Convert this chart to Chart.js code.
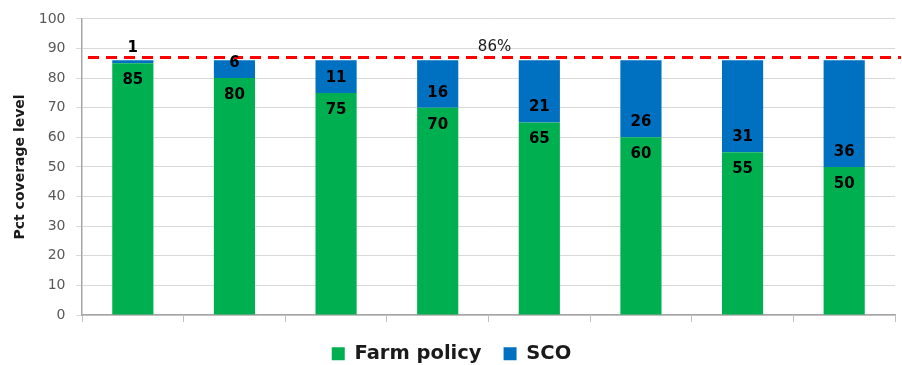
<!DOCTYPE html>
<html>
<head>
<meta charset="utf-8">
<script src="https://cdn.jsdelivr.net/npm/chart.js@4.4.1/dist/chart.umd.min.js"></script>
<style>
html,body{margin:0;padding:0;background:#fff;}
#wrap{width:902px;height:365px;position:relative;}
</style>
</head>
<body>
<div id="wrap"><canvas id="c" width="902" height="365"></canvas></div>
<script>
const categories = ['1', '2', '3', '4', '5', '6', '7', '8'];
const farmPolicy = [85, 80, 75, 70, 65, 60, 55, 50];
const sco = [1, 6, 11, 16, 21, 26, 31, 36];
const yTicks = [0, 10, 20, 30, 40, 50, 60, 70, 80, 90, 100];
const targetLevel = 87;
const targetLabel = '86%';

const FONT = "'DejaVu Sans', sans-serif";

const refLinePlugin = {
  id: 'refLine',
  afterDatasetsDraw(chart) {
    const {ctx, chartArea, scales} = chart;
    const y = scales.y.getPixelForValue(targetLevel);
    ctx.save();
    ctx.strokeStyle = '#FF0000';
    ctx.lineWidth = 3;
    ctx.setLineDash([11, 7]);
    ctx.beginPath();
    ctx.moveTo(chartArea.left + 6, y);
    ctx.lineTo(chartArea.right + 6, y);
    ctx.stroke();
    ctx.setLineDash([]);
    const xb = (scales.x.getPixelForValue(3) + scales.x.getPixelForValue(4)) / 2 + 6;
    ctx.fillStyle = '#1a1a1a';
    ctx.font = "15px " + FONT;
    ctx.textAlign = 'center';
    ctx.textBaseline = 'middle';
    ctx.fillText(targetLabel, xb, scales.y.getPixelForValue(90.6));
    ctx.restore();
  }
};

const labelPlugin = {
  id: 'barLabels',
  afterDatasetsDraw(chart) {
    const {ctx} = chart;
    const mg = chart.getDatasetMeta(0);
    ctx.save();
    ctx.fillStyle = '#000';
    ctx.font = "bold 15px " + FONT;
    ctx.textAlign = 'center';
    ctx.textBaseline = 'middle';
    mg.data.forEach((bar, i) => {
      ctx.fillText(String(farmPolicy[i]), bar.x, bar.y + 17);
      ctx.fillText(String(sco[i]), bar.x, bar.y - 15);
    });
    ctx.restore();
  }
};

new Chart(document.getElementById('c'), {
  type: 'bar',
  data: {
    labels: categories,
    datasets: [
      {label: 'Farm policy', data: farmPolicy, backgroundColor: '#00B050', stack: 's'},
      {label: 'SCO', data: sco, backgroundColor: '#0070C0', stack: 's'}
    ]
  },
  options: {
    responsive: false,
    animation: false,
    devicePixelRatio: 1,
    layout: {padding: {left: 8, right: 7, top: 6, bottom: 0}},
    datasets: {bar: {categoryPercentage: 1, barPercentage: 0.405}},
    plugins: {
      tooltip: {enabled: false},
      legend: {
        position: 'bottom',
        maxHeight: 43,
        labels: {
          boxWidth: 13, boxHeight: 13, padding: 22,
          color: '#1a1a1a',
          font: {family: FONT, size: 19.5, weight: 'bold'}
        }
      }
    },
    scales: {
      x: {
        stacked: true,
        grid: {offset: true, drawOnChartArea: false, drawTicks: true, tickLength: 7, color: '#bfbfbf'},
        border: {color: '#a6a6a6', width: 1.5},
        ticks: {display: false}
      },
      y: {
        stacked: true,
        min: 0, max: 100,
        afterBuildTicks(scale) { scale.ticks = yTicks.map(v => ({value: v})); },
        grid: {color: '#d9d9d9', tickLength: 6, lineWidth: 1},
        border: {color: '#a6a6a6', width: 1.5},
        ticks: {color: '#595959', font: {family: FONT, size: 14}, padding: 10.5},
        title: {display: true, text: 'Pct coverage level', color: '#1a1a1a', font: {family: FONT, size: 14, weight: 'bold'}, padding: {top: 3.5, bottom: 0}}
      }
    }
  },
  plugins: [refLinePlugin, labelPlugin]
});
</script>
</body>
</html>
